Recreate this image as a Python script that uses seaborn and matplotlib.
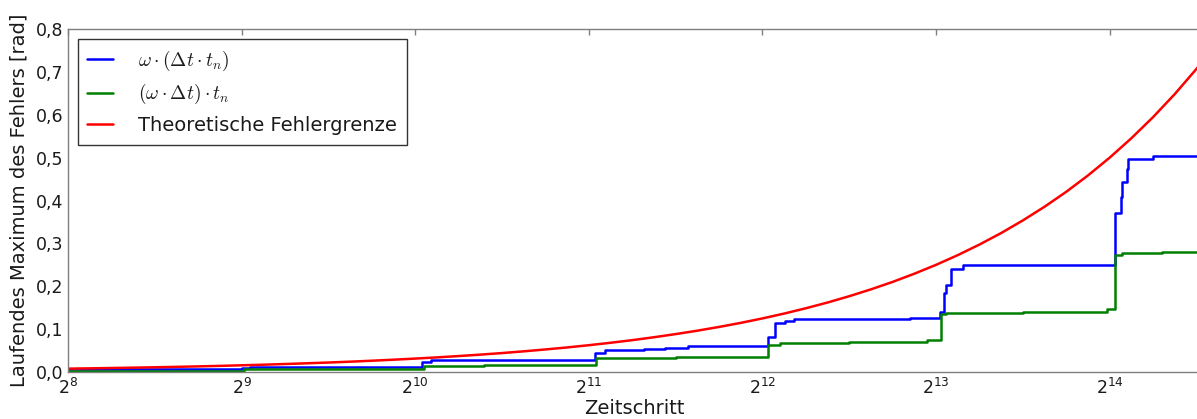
import numpy as np
import pandas as pd
import matplotlib
matplotlib.use("Agg")
import matplotlib.pyplot as plt
import matplotlib.ticker as mticker
import seaborn as sns

# Running maximum of the phase error, time step index on a log2 axis
steps_a = [256, 513, 530, 1054, 1090, 2095, 2188, 2556, 2780, 3040,
           4192, 4304, 4482, 4640, 7380, 8336, 8450, 8530, 8710, 9110,
           16720, 17120, 17240, 17520, 17650, 19480, 23600]
err_a = [0.0062, 0.0085, 0.0124, 0.024, 0.0285, 0.045, 0.0513, 0.0535, 0.057, 0.0615,
         0.0824, 0.115, 0.119, 0.123, 0.1248, 0.1407, 0.1835, 0.203, 0.241, 0.2496,
         0.370, 0.409, 0.442, 0.473, 0.496, 0.504, 0.504]

steps_b = [256, 380, 516, 1060, 1350, 2105, 2900, 3820,
           4192, 4390, 5790, 7910, 8360, 8530, 11585, 16200,
           16720, 17200, 20170, 23600]
err_b = [0.0015, 0.0030, 0.007, 0.0148, 0.016, 0.032, 0.034, 0.0357,
         0.063, 0.067, 0.070, 0.0746, 0.135, 0.138, 0.141, 0.147,
         0.273, 0.277, 0.279, 0.284]

# Theoretical error bound, sampled every eighth of an octave
steps_c = [256, 279, 304, 332, 362, 395, 431, 470,
           512, 558, 609, 664, 724, 790, 861, 939,
           1024, 1117, 1218, 1328, 1448, 1579, 1722, 1878,
           2048, 2233, 2436, 2656, 2896, 3159, 3444, 3756,
           4096, 4467, 4871, 5312, 5793, 6317, 6889, 7512,
           8192, 8933, 9742, 10624, 11585, 12634, 13777, 15024,
           16384, 17866, 19484, 21247, 23170, 23600]
err_c = [0.0078, 0.0085, 0.0093, 0.0101, 0.0110, 0.0120, 0.0131, 0.0143,
         0.0156, 0.0170, 0.0186, 0.0203, 0.0221, 0.0241, 0.0263, 0.0287,
         0.0313, 0.0341, 0.0372, 0.0405, 0.0442, 0.0482, 0.0526, 0.0573,
         0.0625, 0.0682, 0.0743, 0.0811, 0.0884, 0.0964, 0.1051, 0.1146,
         0.125, 0.1363, 0.1487, 0.1621, 0.1768, 0.1928, 0.2102, 0.2293,
         0.25, 0.2726, 0.2973, 0.3242, 0.3536, 0.3856, 0.4204, 0.4585,
         0.5, 0.5453, 0.5946, 0.6484, 0.7071, 0.7202]

labels = [r"$\omega\cdot(\Delta t\cdot t_n)$",
          r"$(\omega\cdot\Delta t)\cdot t_n$",
          "Theoretische Fehlergrenze"]
colors = ["#0000ff", "#008000", "#ff0000"]

y_ticks = [0.0, 0.1, 0.2, 0.3, 0.4, 0.5, 0.6, 0.7, 0.8]

sns.set_style("white")
plt.rcParams["font.family"] = ["DejaVu Sans"]
plt.rcParams["mathtext.fontset"] = "cm"
text_color = "#1a1a1a"

W, H = 1197, 419
fig = plt.figure(figsize=(W / 100, H / 100), dpi=100)
ax = fig.add_axes([68 / W, (H - 372) / H, (1197 - 68 + 3) / W, (372 - 29) / H])

df_a = pd.DataFrame({"t": steps_a, "err": err_a})
df_b = pd.DataFrame({"t": steps_b, "err": err_b})
df_c = pd.DataFrame({"t": steps_c, "err": err_c})

sns.lineplot(data=df_a, x="t", y="err", ax=ax, color=colors[0], lw=1.8,
             drawstyle="steps-post", estimator=None, label=labels[0])
sns.lineplot(data=df_b, x="t", y="err", ax=ax, color=colors[1], lw=1.8,
             drawstyle="steps-post", estimator=None, label=labels[1])
sns.lineplot(data=df_c, x="t", y="err", ax=ax, color=colors[2], lw=1.8,
             estimator=None, label=labels[2])

ax.set_xscale("log", base=2)
ax.set_xlim(256, 2 ** 14.52)
ax.set_ylim(0, 0.8)
ax.xaxis.set_major_locator(mticker.LogLocator(base=2))
ax.xaxis.set_minor_locator(mticker.NullLocator())
ax.set_yticks(y_ticks)
ax.set_yticklabels([f"{v:.1f}".replace(".", ",") for v in y_ticks])

for s in ax.spines.values():
    s.set_color("#7f7f7f")
    s.set_linewidth(1.0)
ax.spines["right"].set_visible(False)
ax.tick_params(direction="in", top=True, right=False, length=4, width=1,
               color="#7f7f7f", labelsize=12.5, labelcolor=text_color)
ax.tick_params(axis="y", pad=3.5)
ax.tick_params(axis="x", pad=4)

ax.set_xlabel("Zeitschritt", fontsize=14, color=text_color, labelpad=1)
ax.set_ylabel("Laufendes Maximum des Fehlers [rad]", fontsize=14,
              color=text_color, labelpad=5)

leg = ax.legend(loc="upper left", fontsize=14, frameon=True, fancybox=False,
                handlelength=1.3, handletextpad=1.3, borderaxespad=0.5,
                labelspacing=0.5, borderpad=0.5)
leg.get_frame().set_edgecolor("black")
leg.get_frame().set_linewidth(1.0)
for t in leg.get_texts():
    t.set_color(text_color)

fig.savefig("out.png", dpi=100)
